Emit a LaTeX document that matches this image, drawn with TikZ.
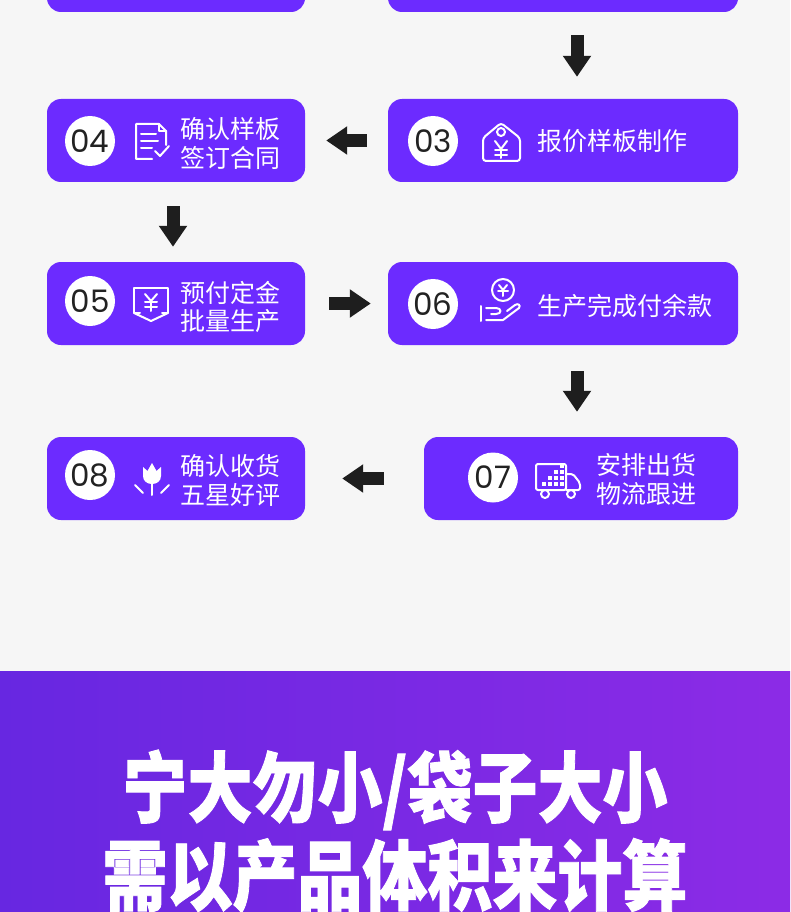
\documentclass[tikz,border=0pt]{standalone}
\usepackage{fontspec}
\usepackage{graphicx}
\setmainfont{Noto Sans CJK SC}
\newfontfamily\numfont{Poppins}
\newfontfamily\titlefont[BoldFeatures={FakeBold=1.2}]{Noto Sans CJK SC}
\usetikzlibrary{arrows.meta}
\definecolor{pagebg}{HTML}{F6F6F6}
\definecolor{boxpurple}{HTML}{6C2BFF}
\definecolor{numgray}{HTML}{222222}
\definecolor{arrowblack}{HTML}{1E1E1E}
\definecolor{bandleft}{HTML}{6727E1}
\definecolor{bandright}{HTML}{8C2BE6}
\begin{document}
\begin{tikzpicture}[x=1pt,y=-1pt,
        stepbox/.style={fill=boxpurple, rounded corners=14pt, minimum height=83pt, inner sep=0pt},
        numdot/.style={circle, fill=white, minimum size=50pt, inner sep=0pt, text=numgray, font=\numfont\fontsize{31}{31}\selectfont},
        steptext/.style={text=white, anchor=west, align=left, inner sep=0pt, font=\fontsize{25}{28.5}\selectfont},
        flow/.style={draw=arrowblack, line width=13pt, -{Triangle[width=27pt,length=21pt]}},
        icon/.style={draw=white, line width=2pt, line join=round, line cap=round}]
    \useasboundingbox (0,0) rectangle (790,912);
    \clip (0,0) rectangle (790,912);
    \fill[pagebg] (0,0) rectangle (790,912);

    % step boxes
    \node[stepbox, minimum width=258pt] (b01) at (176,-29.5) {};
    \node[stepbox, minimum width=350pt] (b02) at (563,-29.5) {};
    \node[stepbox, minimum width=258pt] (b04) at (176,140.5) {};
    \node[stepbox, minimum width=350pt] (b03) at (563,140.5) {};
    \node[stepbox, minimum width=258pt] (b05) at (176,303.5) {};
    \node[stepbox, minimum width=350pt] (b06) at (563,303.5) {};
    \node[stepbox, minimum width=258pt] (b08) at (176,478.5) {};
    \node[stepbox, minimum width=314pt] (b07) at (581,478.5) {};

    % numbers
    \foreach \n/\x/\y in {04/90/141, 03/433/141, 05/90/301, 06/433/304, 07/493/477.5, 08/90/475} {
            \node[numdot] (n\n) at (\x,\y) {\n};
        }

    % texts
    \node[steptext] (t04) at (180,143.5) {确认样板\\签订合同};
    \node[steptext] (t03) at (537,141) {报价样板制作};
    \node[steptext] (t05) at (180,307) {预付定金\\批量生产};
    \node[steptext] (t06) at (537,306) {生产完成付余款};
    \node[steptext] (t07) at (596,479.5) {安排出货\\物流跟进};
    \node[steptext] (t08) at (180,480.5) {确认收货\\五星好评};

    % arrows
    \draw[flow, shorten <=23pt, shorten >=22pt] ([xshift=14pt]b02.south) -- ([xshift=14pt]b03.north);
    \draw[flow, shorten <=21pt, shorten >=21pt] (b03.west) -- (b04.east);
    \draw[flow, shorten <=24pt, shorten >=15pt] ([xshift=-3pt]b04.south) -- ([xshift=-3pt]b05.north);
    \draw[flow, shorten <=24pt, shorten >=17pt] (b05.east) -- (b06.west);
    \draw[flow, shorten <=26pt, shorten >=25pt] ([xshift=14pt]b06.south) -- ([xshift=14pt]b06.south |- b07.north);
    \draw[flow, shorten <=40pt, shorten >=37pt] (b07.west) -- (b08.east);

    % icon 04: contract
    \draw[icon] (152,159) -- (136,159) -- (136,124) -- (159,124) -- (166,131) -- (166,145);
    \draw[icon] (159,124) -- (159,131) -- (166,131);
    \foreach \y/\e in {134/156, 141/158, 148/152} {
            \draw[icon] (141,\y) -- (\e,\y);
        }
    \draw[icon] (155,151) -- (160,156) -- (169,146);

    % icon 03: price tag
    \draw[icon, rounded corners=3pt] (501,123) -- (520,138) -- (520,161) -- (483,161) -- (483,138) -- cycle;
    \draw[icon] (501,132) circle (4pt);
    \draw[icon] (495,141) -- (501,149) -- (507,141);
    \draw[icon] (501,149) -- (501,158);
    \draw[icon] (495,150) -- (507,150);
    \draw[icon] (495,155) -- (507,155);

    % icon 05: deposit
    \draw[icon] (140,313) -- (134,313) -- (134,288) -- (168,288) -- (168,313) -- (162,313);
    \draw[icon] (134,313) -- (151,321) -- (168,313);
    \draw[icon] (145,294) -- (151,301) -- (157,294);
    \draw[icon] (151,301) -- (151,311);
    \draw[icon] (145,302) -- (157,302);
    \draw[icon] (145,307) -- (157,307);

    % icon 06: coin and hand
    \draw[icon] (503,290) circle (11pt);
    \draw[icon] (499,285) -- (503,290) -- (507,285);
    \draw[icon] (503,290) -- (503,296);
    \draw[icon] (498,291) -- (508,291);
    \draw[icon] (481,306) -- (481,321);
    \draw[icon] (486,308) -- (496,308) .. controls (502,308) and (502,314) .. (496,314) -- (491,314);
    \draw[icon] (486,320) -- (503,320) -- (519,308) .. controls (521,305) and (518,303) .. (515,305) -- (507,311);

    % icon 07: truck
    \draw[icon, rounded corners=2pt] (566,490) -- (536,490) -- (536,464) -- (566,464) -- cycle;
    \draw[icon, rounded corners=2pt] (566,474) -- (573,474) -- (580,483) -- (580,490) -- (566,490);
    \foreach \x/\y in {542/486, 548/486, 554/486, 560/486, 548/480, 554/480, 560/480, 554/474, 560/474, 560/468} {
            \fill[white] (\x,\y) rectangle ++(4,-4);
        }
    \filldraw[icon, fill=boxpurple] (545,494) circle (4pt);
    \filldraw[icon, fill=boxpurple] (571,494) circle (4pt);

    % icon 08: tulip
    \fill[white] (143,467) -- (147.5,471) -- (152,463) -- (156.5,471) -- (161,467) -- (161,476)
        .. controls (161,481) and (157,484) .. (152,484) .. controls (147,484) and (143,481) .. (143,476) -- cycle;
    \draw[icon] (152,484) -- (152,495);
    \draw[icon] (135,485) -- (143,493);
    \draw[icon] (169,485) -- (161,493);

    % bottom band
    \shade[left color=bandleft, right color=bandright] (0,671) rectangle (790,912);
    \node[text=white, font=\titlefont\bfseries\fontsize{65}{65}\selectfont] (title1) at (395,790) {\scalebox{1}[1.18]{宁大勿小/袋子大小}};
    \node[text=white, font=\titlefont\bfseries\fontsize{65}{65}\selectfont] (title2) at (395,875.5) {\scalebox{1}[1.18]{需以产品体积来计算}};
\end{tikzpicture}
\end{document}
